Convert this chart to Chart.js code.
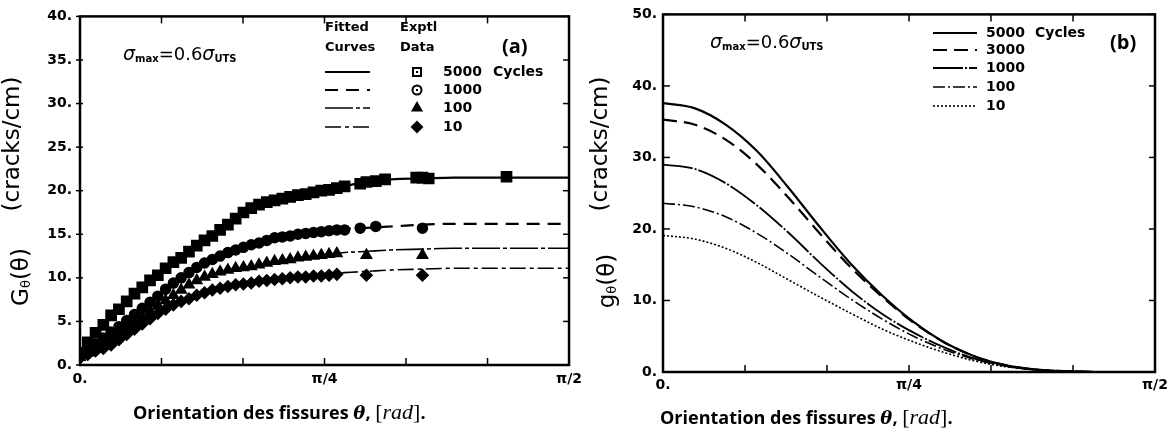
<!DOCTYPE html>
<html>
<head>
<meta charset="utf-8">
<script src="https://cdn.jsdelivr.net/npm/chart.js@4/dist/chart.umd.min.js"></script>
<style>
  html, body { margin: 0; padding: 0; background: #fff; }
  #wrap { position: relative; width: 1176px; height: 432px; overflow: hidden; background: #fff; }
  canvas { position: absolute; top: 0; }
  #cA { left: 0; }
  #cB { left: 588px; }
  .cap { position: absolute; font-family: 'Open Sans', sans-serif; font-weight: 700; font-size: 18px;
         color: #000; white-space: nowrap; line-height: 22px; }
  .cap .th { font-family: 'DejaVu Serif', serif; font-style: italic; font-weight: 700; }
  .cap .rd { font-family: 'Liberation Serif', serif; font-size: 22px; font-weight: 400; }
</style>
</head>
<body>
<div id="wrap">
  <canvas id="cA" width="588" height="400"></canvas>
  <canvas id="cB" width="588" height="400"></canvas>
  <div class="cap" style="left:133px; top:401px;">Orientation des fissures <span class="th">θ</span>, <span class="rd">[<i>rad</i>]</span>.</div>
  <div class="cap" style="left:660px; top:406px;">Orientation des fissures <span class="th">θ</span>, <span class="rd">[<i>rad</i>]</span>.</div>
</div>
<script>
// ---------- Panel (a): G_theta(theta), fitted curves + experimental data ----------
const cyclesA = ['5000', '1000', '100', '10'];
const xTickLabels = ['0.', '', '', 'π/4', '', '', 'π/2'];
const yTicksA = [0, 5, 10, 15, 20, 25, 30, 35, 40];
const yLabelsA = ['0.', '5.', '10.', '15.', '20.', '25.', '30.', '35.', '40.'];

const thetaFitA = [0, 0.05, 0.1, 0.15, 0.2, 0.25, 0.3, 0.35, 0.4, 0.45, 0.5, 0.55, 0.6, 0.65,
                   0.7, 0.75, 0.8, 0.85, 0.9, 0.95, 1.0, 1.1, 1.2, 1.3, 1.4, 1.5, 1.5708];
const fitA5000 = [1.5, 3.6, 5.6, 7.4, 8.9, 10.3, 11.7, 13.0, 14.3, 15.5, 16.9, 17.9, 18.6, 19.1,
                  19.5, 19.8, 20.1, 20.5, 20.9, 21.1, 21.3, 21.4, 21.5, 21.5, 21.5, 21.5, 21.5];
const fitA1000 = [1.0, 2.4, 3.7, 5.1, 6.4, 7.9, 9.4, 10.6, 11.7, 12.5, 13.2, 13.8, 14.3, 14.7,
                  15.0, 15.2, 15.4, 15.6, 15.7, 15.8, 15.9, 16.1, 16.2, 16.2, 16.2, 16.2, 16.2];
const fitA100  = [1.0, 1.9, 2.9, 4.2, 5.4, 6.8, 8.0, 9.2, 10.1, 10.7, 11.1, 11.3, 11.7, 12.0,
                  12.3, 12.5, 12.7, 12.9, 13.0, 13.1, 13.2, 13.3, 13.4, 13.4, 13.4, 13.4, 13.4];
const fitA10   = [0.9, 1.6, 2.3, 3.5, 4.7, 5.9, 6.9, 7.6, 8.3, 8.8, 9.2, 9.4, 9.7, 9.9,
                  10.2, 10.4, 10.5, 10.6, 10.7, 10.8, 10.9, 11.0, 11.1, 11.1, 11.1, 11.1, 11.1];

const expTheta = [0, 0.025, 0.05, 0.075, 0.1, 0.125, 0.15, 0.175, 0.2, 0.225, 0.25, 0.275, 0.3,
                  0.325, 0.35, 0.375, 0.4, 0.425, 0.45, 0.475, 0.5, 0.525, 0.55, 0.575, 0.6, 0.625,
                  0.65, 0.675, 0.7, 0.725, 0.75, 0.775, 0.8, 0.825, 0.85,
                  0.9, 0.92, 0.95, 0.98, 1.08, 1.1, 1.12, 1.37];
const exp5000 = [1.4, 2.6, 3.7, 4.6, 5.7, 6.4, 7.3, 8.2, 8.9, 9.7, 10.3, 11.1, 11.8, 12.3, 13.0,
                 13.7, 14.3, 14.8, 15.5, 16.1, 16.8, 17.5, 18.0, 18.4, 18.7, 18.9, 19.1, 19.3, 19.5,
                 19.6, 19.8, 20.0, 20.1, 20.3, 20.5,
                 20.8, 21.0, 21.1, 21.3, 21.5, 21.5, 21.4, 21.6];
const exp1000 = [1.0, 1.7, 2.4, 3.1, 3.8, 4.4, 5.1, 5.8, 6.5, 7.2, 7.9, 8.7, 9.4, 10.0, 10.6,
                 11.2, 11.7, 12.1, 12.5, 12.9, 13.2, 13.5, 13.8, 14.0, 14.3, 14.6, 14.7, 14.8, 15.0,
                 15.1, 15.2, 15.3, 15.4, 15.5, 15.5,
                 15.7, null, 15.9, null, null, 15.7, null, null];
const exp100  = [0.9, 1.4, 1.9, 2.4, 2.9, 3.5, 4.2, 4.8, 5.4, 6.1, 6.8, 7.4, 8.0, 8.6, 9.2,
                 9.7, 10.1, 10.4, 10.7, 10.9, 11.1, 11.2, 11.3, 11.5, 11.7, 11.9, 12.0, 12.1, 12.3,
                 12.4, 12.5, 12.6, 12.7, 12.8, null,
                 null, 12.6, null, null, null, 12.6, null, null];
const exp10   = [0.8, 1.2, 1.6, 1.9, 2.3, 2.9, 3.5, 4.1, 4.7, 5.3, 5.9, 6.4, 6.9, 7.3, 7.6,
                 8.0, 8.3, 8.6, 8.8, 9.0, 9.2, 9.3, 9.4, 9.6, 9.7, 9.8, 9.9, 10.0, 10.1,
                 10.1, 10.2, 10.2, 10.3, 10.4, null,
                 null, 10.3, null, null, null, 10.3, null, null];

// ---------- Panel (b): g_theta(theta) curves ----------
const cyclesB = ['5000', '3000', '1000', '100', '10'];
const yTicksB = [0, 10, 20, 30, 40, 50];
const yLabelsB = ['0.', '10.', '20.', '30.', '40.', '50.'];
const thetaFitB = [0, 0.1, 0.2, 0.3, 0.4, 0.5, 0.6, 0.7, 0.8, 0.9, 1.0, 1.1, 1.2, 1.3, 1.4, 1.5, 1.5708];
const fitB5000 = [37.6, 36.9, 34.6, 30.9, 25.8, 20.3, 15.1, 10.7, 7.0, 4.1, 2.1, 0.9, 0.3, 0.1, 0.0, 0.0, 0.0];
const fitB3000 = [35.3, 34.6, 32.5, 29.0, 24.4, 19.4, 14.6, 10.5, 6.9, 4.1, 2.1, 0.9, 0.3, 0.1, 0.0, 0.0, 0.0];
const fitB1000 = [29.0, 28.4, 26.4, 23.3, 19.5, 15.3, 11.4, 8.1, 5.5, 3.4, 1.8, 0.8, 0.3, 0.1, 0.0, 0.0, 0.0];
const fitB100  = [23.6, 23.1, 21.7, 19.4, 16.5, 13.3, 10.2, 7.4, 5.0, 3.1, 1.7, 0.8, 0.3, 0.1, 0.0, 0.0, 0.0];
const fitB10   = [19.1, 18.6, 17.3, 15.3, 12.9, 10.5, 8.2, 6.0, 4.2, 2.7, 1.5, 0.7, 0.3, 0.1, 0.0, 0.0, 0.0];

// ---------- helpers ----------
const pts = (xs, ys) => xs.map((x, i) => ({ x, y: ys[i] })).filter(p => p.y !== null);

function lineSet(xs, ys, dash, width) {
  return { type: 'scatter', data: pts(xs, ys), showLine: true, borderColor: '#000',
           borderWidth: width, borderDash: dash, pointRadius: 0, fill: false,
           cubicInterpolationMode: 'monotone', order: 1 };
}
function markerSet(xs, ys, style, r) {
  return { type: 'scatter', data: pts(xs, ys), showLine: false, pointStyle: style,
           pointRadius: r, backgroundColor: '#000', borderColor: '#000', borderWidth: 2.5, order: 2 };
}

function drawRich(ctx, x, y, parts, align) {
  let w = 0;
  parts.forEach(p => { ctx.font = p.f; p.w = ctx.measureText(p.t).width; w += p.w; });
  let cx = align === 'center' ? x - w / 2 : x;
  parts.forEach(p => { ctx.font = p.f; ctx.fillText(p.t, cx, y + (p.dy || 0)); cx += p.w; });
}
function drawRotated(ctx, cx, cy, parts) {
  ctx.save();
  ctx.translate(cx, cy);
  ctx.rotate(-Math.PI / 2);
  ctx.textBaseline = 'middle';
  drawRich(ctx, 0, 0, parts, 'center');
  ctx.restore();
}
function seg(ctx, x1, y1, x2, y2) { ctx.beginPath(); ctx.moveTo(x1, y1); ctx.lineTo(x2, y2); ctx.stroke(); }

const FONT = 'DejaVu Sans';
const sigmaParts = () => [
  { t: 'σ', f: `italic 19px ${FONT}` },
  { t: 'max', f: `bold 10px ${FONT}`, dy: 4 },
  { t: '=0.6', f: `18px ${FONT}` },
  { t: 'σ', f: `italic 19px ${FONT}` },
  { t: 'UTS', f: `bold 10px ${FONT}`, dy: 4 }
];

// Frame, inward ticks, titles and legend drawn on top of the plot
const decor = {
  id: 'decor',
  afterDraw(chart, args, o) {
    const { ctx, chartArea: a, scales } = chart;
    ctx.save();
    ctx.strokeStyle = '#000';
    ctx.fillStyle = '#000';
    ctx.setLineDash([]);
    ctx.lineWidth = 2.5;
    ctx.strokeRect(a.left, a.top, a.right - a.left, a.bottom - a.top);
    ctx.lineWidth = 1.5;
    scales.x.ticks.forEach(t => {
      const px = scales.x.getPixelForValue(t.value);
      seg(ctx, px, a.bottom, px, a.bottom - 7);
      seg(ctx, px, a.top, px, a.top + 7);
    });
    scales.y.ticks.forEach(t => {
      const py = scales.y.getPixelForValue(t.value);
      seg(ctx, a.left - o.leftOut, py, a.left + o.leftIn, py);
      seg(ctx, a.right, py, a.right - 6, py);
    });

    // axis title
    ctx.textBaseline = 'middle';
    drawRotated(ctx, o.titleB[0], o.titleB[1], [{ t: '(cracks/cm)', f: `23px ${FONT}` }]);
    drawRotated(ctx, o.titleA[0], o.titleA[1], [
      { t: o.sym, f: `23px ${FONT}` },
      { t: 'θ', f: `13px ${FONT}`, dy: 5 },
      { t: '(θ)', f: `23px ${FONT}` }
    ]);

    // stress level annotation
    ctx.textAlign = 'left';
    drawRich(ctx, o.sigma[0], o.sigma[1], sigmaParts(), 'left');

    // panel tag
    ctx.font = `700 20px 'Open Sans'`;
    ctx.fillText(o.tag, o.tagPos[0], o.tagPos[1]);

    // legend
    const ds = chart.data.datasets;
    ctx.font = `bold 14px ${FONT}`;
    o.rows.forEach((ry, i) => {
      const d = ds[i];
      ctx.save();
      ctx.lineWidth = d.borderWidth;
      ctx.setLineDash(d.borderDash || []);
      seg(ctx, o.lineX[0], ry, o.lineX[1], ry);
      ctx.restore();
      ctx.fillText(o.labels[i], o.textX, ry);
    });
    ctx.fillText('Cycles', o.cyclesX, o.rows[0]);

    if (o.headers) {
      ctx.font = `bold 13px ${FONT}`;
      o.headers.forEach(h => ctx.fillText(h[0], h[1], h[2]));
    }
    if (o.markX) {
      o.rows.forEach((ry, i) => {
        const mx = o.markX;
        ctx.lineWidth = 2;
        if (i === 0) {
          ctx.strokeRect(mx - 4, ry - 4, 8, 8);
          ctx.fillRect(mx - 1, ry - 1, 2, 2);
        } else if (i === 1) {
          ctx.beginPath(); ctx.arc(mx, ry, 4.5, 0, Math.PI * 2); ctx.stroke();
          ctx.fillRect(mx - 1, ry - 1, 2, 2);
        } else {
          Chart.helpers.drawPoint(ctx, { pointStyle: i === 2 ? 'triangle' : 'rectRot', radius: 5, borderWidth: 1 }, mx, ry);
          ctx.fill();
        }
      });
    }
    ctx.restore();
  }
};

Chart.defaults.color = '#000';
const tickFont = { family: FONT, size: 14, weight: 'bold' };

function makeScales(yTicks, yLabels, yMax, yWidth, xHeight, yPad, xPad) {
  return {
    x: {
      type: 'linear', min: 0, max: Math.PI / 2,
      afterBuildTicks: s => { s.ticks = xTickLabels.map((l, i) => ({ value: i * Math.PI / 12 })); },
      afterFit: s => { s.height = xHeight; },
      grid: { display: false, drawTicks: false },
      border: { display: false },
      ticks: { callback: (v, i) => xTickLabels[i], font: tickFont, color: '#000', padding: xPad,
               maxRotation: 0, autoSkip: false }
    },
    y: {
      min: 0, max: yMax,
      afterBuildTicks: s => { s.ticks = yTicks.map(v => ({ value: v })); },
      afterFit: s => { s.width = yWidth; },
      grid: { display: false, drawTicks: false },
      border: { display: false },
      ticks: { callback: (v, i) => yLabels[i], font: tickFont, color: '#000', padding: yPad, autoSkip: false }
    }
  };
}

new Chart(document.getElementById('cA'), {
  type: 'scatter',
  data: {
    datasets: [
      lineSet(thetaFitA, fitA5000, [], 2.2),
      lineSet(thetaFitA, fitA1000, [13, 8], 2.2),
      lineSet(thetaFitA, fitA100, [28, 3, 4, 3], 1.6),
      lineSet(thetaFitA, fitA10, [16, 4, 4, 4], 1.6),
      markerSet(expTheta, exp5000, 'rect', 6.5),
      markerSet(expTheta, exp1000, 'circle', 4.5),
      markerSet(expTheta, exp100, 'triangle', 5),
      markerSet(expTheta, exp10, 'rectRot', 5)
    ]
  },
  options: {
    responsive: false, animation: false, devicePixelRatio: 1,
    layout: { padding: { top: 14, right: 18, left: 0, bottom: 0 } },
    plugins: {
      legend: { display: false }, tooltip: { enabled: false },
      decor: {
        leftOut: 4, leftIn: 3,
        titleB: [13, 144], titleA: [22, 277], sym: 'G',
        sigma: [123, 55], tag: '(a)', tagPos: [502, 47],
        rows: [72, 90, 108, 127], lineX: [325, 370], textX: 443, cyclesX: 493,
        labels: cyclesA, markX: 417,
        headers: [['Fitted', 325, 28], ['Curves', 325, 48], ['Exptl', 400, 28], ['Data', 400, 48]]
      }
    },
    scales: makeScales(yTicksA, yLabelsA, 40, 80, 35, 8, 6)
  },
  plugins: [decor]
});

new Chart(document.getElementById('cB'), {
  type: 'scatter',
  data: {
    datasets: [
      lineSet(thetaFitB, fitB5000, [], 2.2),
      lineSet(thetaFitB, fitB3000, [14, 7], 2.2),
      lineSet(thetaFitB, fitB1000, [30, 2, 2, 2], 1.8),
      lineSet(thetaFitB, fitB100, [12, 3, 2, 3], 1.6),
      lineSet(thetaFitB, fitB10, [2, 2], 1.6)
    ]
  },
  options: {
    responsive: false, animation: false, devicePixelRatio: 1,
    layout: { padding: { top: 13, right: 21, left: 0, bottom: 0 } },
    plugins: {
      legend: { display: false }, tooltip: { enabled: false },
      decor: {
        leftOut: 0, leftIn: 7,
        titleB: [13, 144], titleA: [20, 281], sym: 'g',
        sigma: [122, 43], tag: '(b)', tagPos: [522, 43],
        rows: [33, 50, 68, 87, 106], lineX: [345, 389], textX: 398, cyclesX: 447,
        labels: cyclesB
      }
    },
    scales: makeScales(yTicksB, yLabelsB, 50, 75, 28, 6, 5)
  },
  plugins: [decor]
});
</script>
</body>
</html>
